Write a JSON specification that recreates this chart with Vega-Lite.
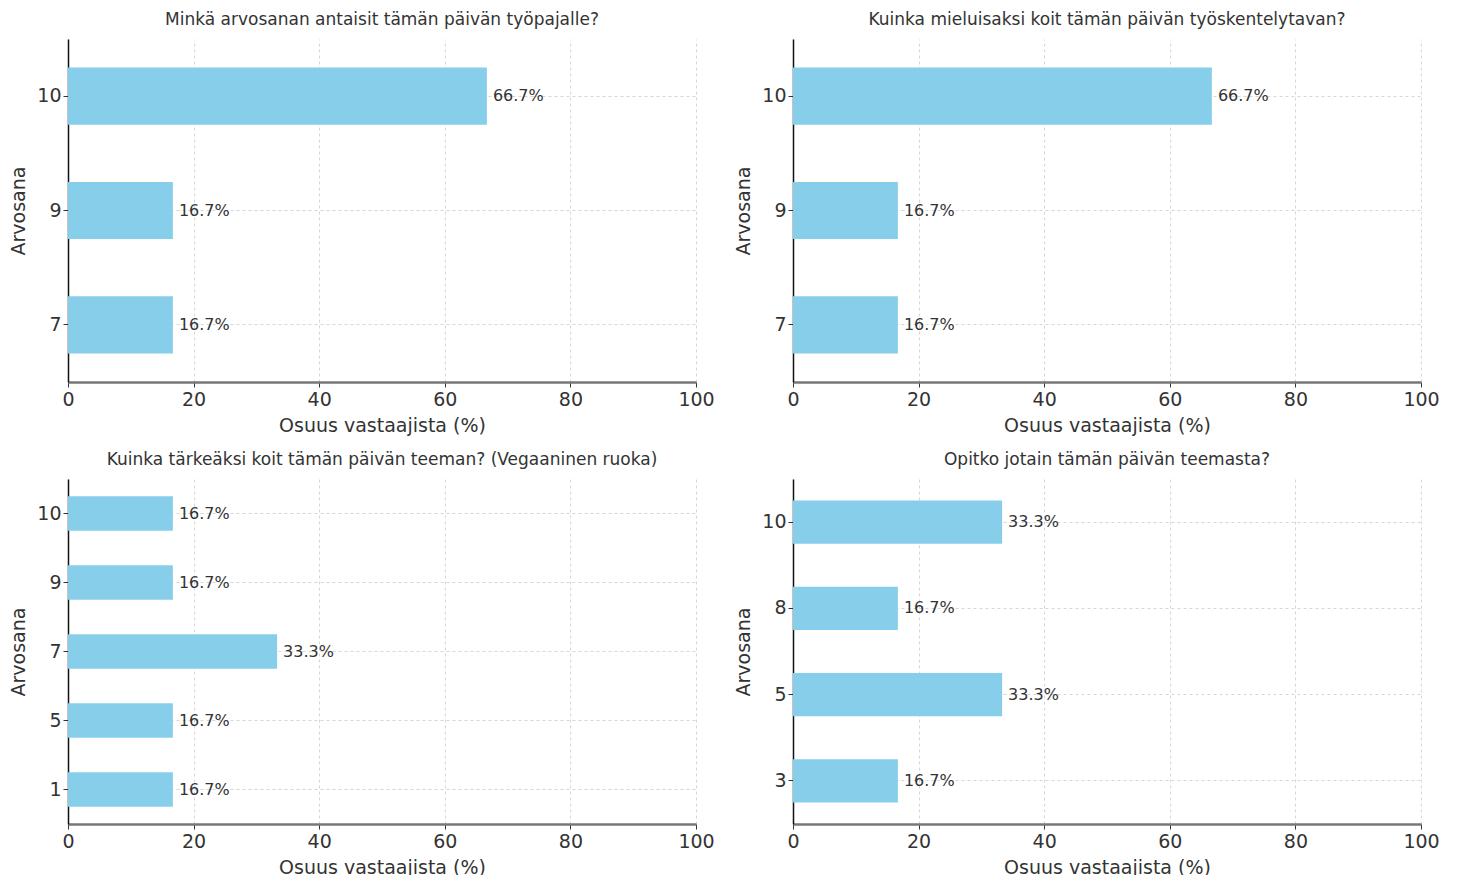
{
  "$schema": "https://vega.github.io/schema/vega-lite/v6.json",
  "background": "white",
  "padding": {"left": 9, "top": 11, "right": 10, "bottom": 3},
  "datasets": {
    "p1": [
      {"grade": 10, "pct": 66.7, "label": "66.7%"},
      {"grade": 9, "pct": 16.7, "label": "16.7%"},
      {"grade": 7, "pct": 16.7, "label": "16.7%"}
    ],
    "p2": [
      {"grade": 10, "pct": 66.7, "label": "66.7%"},
      {"grade": 9, "pct": 16.7, "label": "16.7%"},
      {"grade": 7, "pct": 16.7, "label": "16.7%"}
    ],
    "p3": [
      {"grade": 10, "pct": 16.7, "label": "16.7%"},
      {"grade": 9, "pct": 16.7, "label": "16.7%"},
      {"grade": 7, "pct": 33.3, "label": "33.3%"},
      {"grade": 5, "pct": 16.7, "label": "16.7%"},
      {"grade": 1, "pct": 16.7, "label": "16.7%"}
    ],
    "p4": [
      {"grade": 10, "pct": 33.3, "label": "33.3%"},
      {"grade": 8, "pct": 16.7, "label": "16.7%"},
      {"grade": 5, "pct": 33.3, "label": "33.3%"},
      {"grade": 3, "pct": 16.7, "label": "16.7%"}
    ]
  },
  "config": {
    "font": "DejaVu Sans",
    "view": {"stroke": null},
    "title": {"fontSize": 17, "fontWeight": "normal", "color": "#333333", "offset": 10, "font": "DejaVu Sans"},
    "axis": {
      "labelFont": "DejaVu Sans",
      "titleFont": "DejaVu Sans",
      "labelFontSize": 19,
      "titleFontSize": 19,
      "titleFontWeight": "normal",
      "labelColor": "#333333",
      "titleColor": "#333333",
      "labelFlush": false,
      "grid": true,
      "gridColor": "#cccccc",
      "gridDash": [3, 3],
      "gridWidth": 0.8,
      "tickColor": "#333333",
      "tickSize": 5
    },
    "axisX": {"domainColor": "#777777", "domainWidth": 2.5, "labelPadding": 3, "titlePadding": 7},
    "axisY": {"domainColor": "#111111", "domainWidth": 1.5, "labelPadding": 2, "titlePadding": 8}
  },
  "columns": 2,
  "bounds": "flush",
  "spacing": 97,
  "concat": [
    {
      "title": "Minkä arvosanan antaisit tämän päivän työpajalle?",
      "width": 628, "height": 343,
      "data": {"name": "p1"},
      "encoding": {
        "y": {"field": "grade", "type": "ordinal", "sort": "descending", "scale": {"paddingInner": 0.5, "paddingOuter": 0.25}, "axis": {"title": "Arvosana", "labelAngle": 0}},
        "x": {"field": "pct", "type": "quantitative", "scale": {"domain": [0, 100], "nice": false}, "axis": {"title": "Osuus vastaajista (%)", "values": [0, 20, 40, 60, 80, 100]}}
      },
      "layer": [
        {"mark": {"type": "bar", "color": "#87CEEB"}},
        {"mark": {"type": "text", "align": "left", "baseline": "middle", "dx": 6, "fontSize": 16, "color": "#333333"}, "encoding": {"text": {"field": "label"}}}
      ]
    },
    {
      "title": "Kuinka mieluisaksi koit tämän päivän työskentelytavan?",
      "width": 628, "height": 343,
      "data": {"name": "p2"},
      "encoding": {
        "y": {"field": "grade", "type": "ordinal", "sort": "descending", "scale": {"paddingInner": 0.5, "paddingOuter": 0.25}, "axis": {"title": "Arvosana", "labelAngle": 0}},
        "x": {"field": "pct", "type": "quantitative", "scale": {"domain": [0, 100], "nice": false}, "axis": {"title": "Osuus vastaajista (%)", "values": [0, 20, 40, 60, 80, 100]}}
      },
      "layer": [
        {"mark": {"type": "bar", "color": "#87CEEB"}},
        {"mark": {"type": "text", "align": "left", "baseline": "middle", "dx": 6, "fontSize": 16, "color": "#333333"}, "encoding": {"text": {"field": "label"}}}
      ]
    },
    {
      "title": "Kuinka tärkeäksi koit tämän päivän teeman? (Vegaaninen ruoka)",
      "width": 628, "height": 345,
      "data": {"name": "p3"},
      "encoding": {
        "y": {"field": "grade", "type": "ordinal", "sort": "descending", "scale": {"paddingInner": 0.5, "paddingOuter": 0.25}, "axis": {"title": "Arvosana", "labelAngle": 0}},
        "x": {"field": "pct", "type": "quantitative", "scale": {"domain": [0, 100], "nice": false}, "axis": {"title": "Osuus vastaajista (%)", "values": [0, 20, 40, 60, 80, 100]}}
      },
      "layer": [
        {"mark": {"type": "bar", "color": "#87CEEB"}},
        {"mark": {"type": "text", "align": "left", "baseline": "middle", "dx": 6, "fontSize": 16, "color": "#333333"}, "encoding": {"text": {"field": "label"}}}
      ]
    },
    {
      "title": "Opitko jotain tämän päivän teemasta?",
      "width": 628, "height": 345,
      "data": {"name": "p4"},
      "encoding": {
        "y": {"field": "grade", "type": "ordinal", "sort": "descending", "scale": {"paddingInner": 0.5, "paddingOuter": 0.25}, "axis": {"title": "Arvosana", "labelAngle": 0}},
        "x": {"field": "pct", "type": "quantitative", "scale": {"domain": [0, 100], "nice": false}, "axis": {"title": "Osuus vastaajista (%)", "values": [0, 20, 40, 60, 80, 100]}}
      },
      "layer": [
        {"mark": {"type": "bar", "color": "#87CEEB"}},
        {"mark": {"type": "text", "align": "left", "baseline": "middle", "dx": 6, "fontSize": 16, "color": "#333333"}, "encoding": {"text": {"field": "label"}}}
      ]
    }
  ]
}
